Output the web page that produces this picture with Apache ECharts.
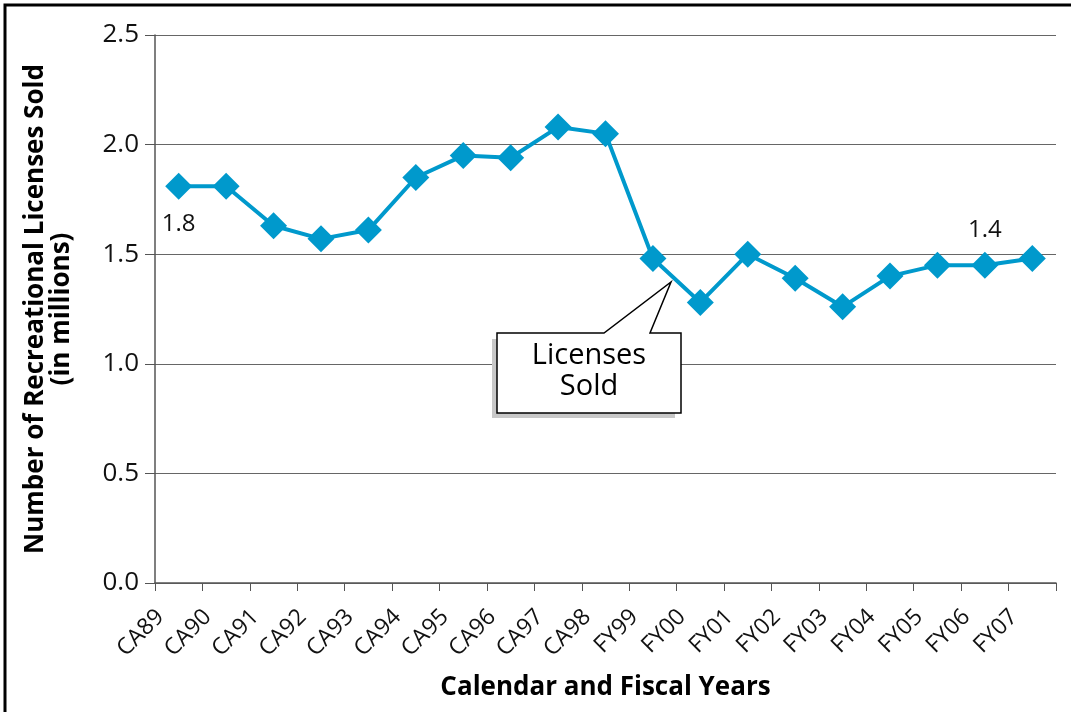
<!DOCTYPE html>
<html>
<head>
<meta charset="utf-8">
<script src="https://cdn.jsdelivr.net/npm/echarts@6/dist/echarts.min.js"></script>
<style>
html, body { margin: 0; padding: 0; background: #fff; }
#main { width: 1071px; height: 712px; }
</style>
</head>
<body>
<div id="main"></div>
<script>
// 年份
var years = ['CA89', 'CA90', 'CA91', 'CA92', 'CA93', 'CA94', 'CA95', 'CA96', 'CA97', 'CA98',
	'FY99', 'FY00', 'FY01', 'FY02', 'FY03', 'FY04', 'FY05', 'FY06', 'FY07'];
// 销售数量（百万）
var licensesSold = [1.81, 1.81, 1.63, 1.57, 1.61, 1.85, 1.95, 1.94, 2.08, 2.05,
	1.48, 1.28, 1.50, 1.39, 1.26, 1.40, 1.45, 1.45, 1.48];
var yTicks = [0, 0.5, 1.0, 1.5, 2.0, 2.5];
// 只显示两个标签
var labelled = { 'CA89': '1.8', 'FY06': '1.4' };

var font = 'Open Sans';
var lineColor = '#0099cc';

var seriesData = [];
for (var i = 0; i < years.length; i++) {
	var item = { value: licensesSold[i] };
	if (labelled[years[i]]) {
		item.label = {
			show: true,
			formatter: labelled[years[i]],
			position: i == 0 ? 'bottom' : 'top',
			distance: i == 0 ? 12 : 10,
			color: '#111',
			fontFamily: font,
			fontSize: 24
		};
	}
	seriesData.push(item);
}

var myChart = echarts.init(document.getElementById('main'));
myChart.setOption({
	animation: false,
	grid: { left: 155, right: 15, top: 35, bottom: 129 },
	xAxis: {
		type: 'category',
		data: years,
		boundaryGap: true,
		name: 'Calendar and Fiscal Years',
		nameLocation: 'middle',
		nameGap: 92,
		nameTextStyle: { fontFamily: font, fontWeight: 'bold', fontSize: 26, color: '#000' },
		axisLine: { lineStyle: { color: '#555', width: 1.5 } },
		axisTick: { show: true, length: 8, alignWithLabel: false, lineStyle: { color: '#555' } },
		axisLabel: { rotate: 45, fontFamily: font, fontSize: 23, color: '#111', margin: 12, interval: 0, padding: [0, 26, 0, 0] }
	},
	yAxis: {
		type: 'value',
		min: yTicks[0],
		max: yTicks[yTicks.length - 1],
		interval: yTicks[1] - yTicks[0],
		name: 'Number of Recreational Licenses Sold\n(in millions)',
		nameLocation: 'middle',
		nameGap: 80,
		nameTextStyle: { fontFamily: font, fontWeight: 'bold', fontSize: 26, color: '#000', lineHeight: 26 },
		axisLine: { show: true, lineStyle: { color: '#555', width: 1.5 } },
		axisTick: { show: true, length: 10, lineStyle: { color: '#555' } },
		axisLabel: {
			fontFamily: font, fontSize: 26, color: '#111', margin: 16,
			formatter: function(v) { return v.toFixed(1); }
		},
		splitLine: { show: true, lineStyle: { color: '#666', width: 1.2 } }
	},
	series: [{
		name: 'Licenses Sold',
		type: 'line',
		data: seriesData,
		symbol: 'diamond',
		symbolSize: 27,
		itemStyle: { color: lineColor },
		lineStyle: { color: lineColor, width: 4 }
	}],
	graphic: [
		// 外框
		{ type: 'rect', shape: { x: 5, y: 5, width: 1080, height: 720 }, style: { fill: 'none', stroke: '#000', lineWidth: 3 }, silent: true },
		// 标注阴影
		{ type: 'rect', shape: { x: 492, y: 339, width: 183, height: 79 }, style: { fill: '#c8c8c8' }, z: 10 },
		// 标注框
		{ type: 'polygon', shape: { points: [[497, 333], [604, 333], [671, 282], [650, 333], [681, 333], [681, 413], [497, 413]] },
			style: { fill: '#fff', stroke: '#000', lineWidth: 1.5 }, z: 11 },
		{ type: 'text', x: 589, y: 371, style: { text: 'Licenses\nSold', font: '29px "Open Sans"', fill: '#000', align: 'center', verticalAlign: 'middle', lineHeight: 31 }, z: 12 }
	]
});
</script>
</body>
</html>
